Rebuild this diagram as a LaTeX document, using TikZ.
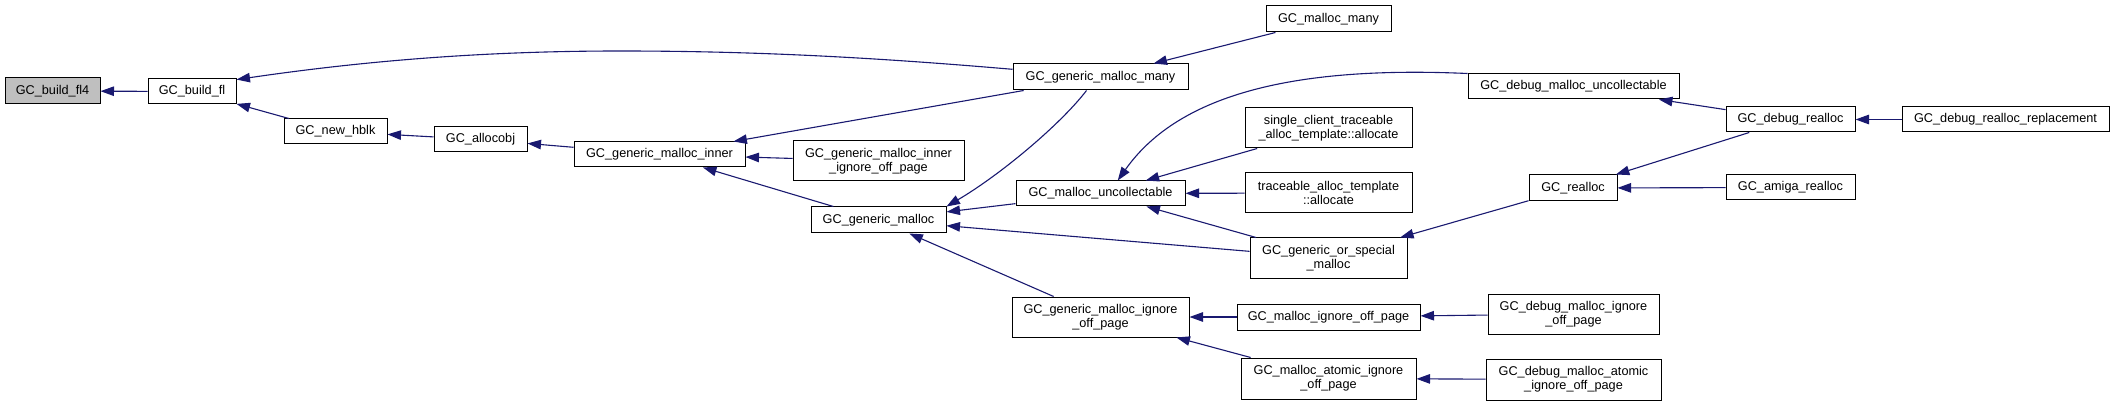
\documentclass[tikz,border=0pt]{standalone}
\usepackage{fontspec}
\setmainfont{Liberation Sans}
\usetikzlibrary{arrows.meta}
\definecolor{mblue}{HTML}{191970}
\definecolor{fillgray}{HTML}{BFBFBF}
\newcommand\nodefnt{\fontsize{12.7pt}{14.3pt}\selectfont}
\tikzset{
  box/.style={draw=black, fill=white, line width=1pt, inner sep=0pt, align=center, font=\nodefnt},
  edge/.style={draw=mblue, line width=1.1pt, -{Triangle[length=13.5pt,width=9.5pt,fill=mblue]}}
}
\begin{document}
\begin{tikzpicture}[x=1pt,y=-1pt]
\useasboundingbox (0,0) rectangle (2115,406);
% nodes
\node[box,minimum width=95pt,minimum height=26pt,fill=fillgray] (fl4) at (52.5,91) {GC\_build\_fl4};
\node[box,minimum width=88pt,minimum height=25pt] (buildfl) at (192,91.5) {GC\_build\_fl};
\node[box,minimum width=103pt,minimum height=25pt] (newhblk) at (335.5,131.5) {GC\_new\_hblk};
\node[box,minimum width=93pt,minimum height=25pt] (allocobj) at (480.5,139.5) {GC\_allocobj};
\node[box,minimum width=171pt,minimum height=25pt] (gmi) at (659.5,154.5) {GC\_generic\_malloc\_inner};
\node[box,minimum width=175pt,minimum height=26pt] (gmm) at (1100.5,77) {GC\_generic\_malloc\_many};
\node[box,minimum width=125pt,minimum height=26pt] (mallocmany) at (1328.5,19) {GC\_malloc\_many};
\node[box,minimum width=171pt,minimum height=40pt] (gmiiop) at (878.5,161) {GC\_generic\_malloc\_inner\\\_ignore\_off\_page};
\node[box,minimum width=135pt,minimum height=26pt] (gm) at (878.5,220) {GC\_generic\_malloc};
\node[box,minimum width=169pt,minimum height=25pt] (mu) at (1100.5,193.5) {GC\_malloc\_uncollectable};
\node[box,minimum width=167pt,minimum height=40pt] (sct) at (1328.5,128) {single\_client\_traceable\\\_alloc\_template::allocate};
\node[box,minimum width=167pt,minimum height=40pt] (tat) at (1328.5,193) {traceable\_alloc\_template\\::allocate};
\node[box,minimum width=157pt,minimum height=40pt] (gosm) at (1328.5,258) {GC\_generic\_or\_special\\\_malloc};
\node[box,minimum width=177pt,minimum height=40pt] (gmiop) at (1100.5,317) {GC\_generic\_malloc\_ignore\\\_off\_page};
\node[box,minimum width=183pt,minimum height=26pt] (miop) at (1328.5,317) {GC\_malloc\_ignore\_off\_page};
\node[box,minimum width=175pt,minimum height=41pt] (maiop) at (1328.5,378.5) {GC\_malloc\_atomic\_ignore\\\_off\_page};
\node[box,minimum width=211pt,minimum height=25pt] (dmu) at (1573.5,86.5) {GC\_debug\_malloc\_uncollectable};
\node[box,minimum width=129pt,minimum height=25pt] (dr) at (1790.5,119.5) {GC\_debug\_realloc};
\node[box,minimum width=207pt,minimum height=25pt] (drr) at (2005.5,119.5) {GC\_debug\_realloc\_replacement};
\node[box,minimum width=88pt,minimum height=26pt] (realloc) at (1573,188) {GC\_realloc};
\node[box,minimum width=129pt,minimum height=25pt] (amiga) at (1790.5,187.5) {GC\_amiga\_realloc};
\node[box,minimum width=171pt,minimum height=40pt] (dmiop) at (1573.5,314) {GC\_debug\_malloc\_ignore\\\_off\_page};
\node[box,minimum width=175pt,minimum height=41pt] (dmaiop) at (1573.5,379.5) {GC\_debug\_malloc\_atomic\\\_ignore\_off\_page};
% edges
\draw[edge] (buildfl) -- (fl4);
\draw[edge] (gmm.175) .. controls (880,58) and (760,51) .. (620,51) .. controls (470,51) and (350,63) .. (buildfl.15);
\draw[edge] (newhblk) -- (buildfl);
\draw[edge] (allocobj) -- (newhblk);
\draw[edge] (gmi) -- (allocobj);
\draw[edge] (gmm) -- (gmi);
\draw[edge] (gmiiop) -- (gmi);
\draw[edge] (gm) -- (gmi);
\draw[edge] (mallocmany) -- (gmm);
\draw[edge] (gmm.224) .. controls (1060,125) and (1000,175) .. (gm.north east);
\draw[edge] (mu) -- (gm);
\draw[edge] (gosm) -- (gm);
\draw[edge] (gmiop) -- (gm);
\draw[edge] (dmu.north west) .. controls (1300,66) and (1180,92) .. (mu.37);
\draw[edge] (sct) -- (mu);
\draw[edge] (tat) -- (mu);
\draw[edge] (gosm) -- (mu);
\draw[edge] (realloc) -- (gosm);
\draw[edge] (dr) -- (dmu);
\draw[edge] (dr) -- (realloc);
\draw[edge] (amiga) -- (realloc);
\draw[edge] (drr) -- (dr);
\draw[edge] (miop) -- (gmiop);
\draw[edge] (maiop) -- (gmiop);
\draw[edge] (dmiop) -- (miop);
\draw[edge] (dmaiop) -- (maiop);
\end{tikzpicture}
\end{document}
